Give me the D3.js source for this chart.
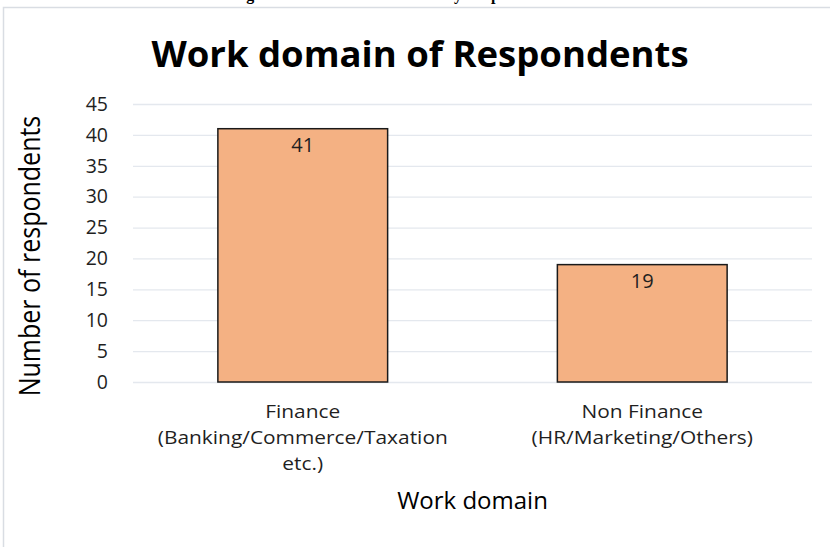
<!DOCTYPE html>
<html>
<head>
<meta charset="utf-8">
<script src="https://cdn.jsdelivr.net/npm/d3@7"></script>
<style>
  html, body { margin: 0; padding: 0; background: #fff; }
  svg { display: block; }
</style>
</head>
<body>
<svg id="chart" width="830" height="547"></svg>
<script>
// Chart data
const categories = [
  ["Finance", "(Banking/Commerce/Taxation", "etc.)"],
  ["Non Finance", "(HR/Marketing/Others)"]
];
const categoryKeys = ["Finance", "Non Finance"];
const respondents = [41, 19];
const yTicks = [0, 5, 10, 15, 20, 25, 30, 35, 40, 45];

const chartTitle = "Work domain of Respondents";
const xTitle = "Work domain";
const yTitle = "Number of respondents";
const caption = "Figure 3: Work domain of Survey Respondents";

const font = "'Open Sans', 'DejaVu Sans', sans-serif";
const svg = d3.select("#chart");

// Caption from the surrounding document, mostly above the frame
svg.append("text")
  .attr("x", 232).attr("y", 0)
  .attr("font-family", "'Liberation Serif', serif")
  .attr("font-weight", "bold")
  .attr("font-size", 16)
  .attr("fill", "#000")
  .text(caption);

// Chart frame (runs past the right and bottom edges)
svg.append("rect")
  .attr("x", 3.5).attr("y", 7.5)
  .attr("width", 840).attr("height", 560)
  .attr("fill", "#fff")
  .attr("stroke", "#d9dde3")
  .attr("stroke-width", 1.5);

const plot = { left: 133, right: 812, top: 104, bottom: 382 };

const x = d3.scaleBand()
  .domain(categoryKeys)
  .range([plot.left, plot.right])
  .paddingInner(0.5)
  .paddingOuter(0.25);

const y = d3.scaleLinear()
  .domain([0, 45])
  .range([plot.bottom, plot.top]);

// Gridlines
svg.append("g")
  .selectAll("line")
  .data(yTicks)
  .join("line")
  .attr("x1", plot.left).attr("x2", plot.right)
  .attr("y1", d => y(d) + 0.5).attr("y2", d => y(d) + 0.5)
  .attr("stroke", "#e4e8ee")
  .attr("stroke-width", 1.3);

// Y axis tick labels
const yAxis = svg.append("g")
  .attr("transform", `translate(${plot.left - 25},0)`)
  .call(d3.axisLeft(y).tickValues(yTicks).tickSize(0).tickPadding(0));
yAxis.select(".domain").remove();
yAxis.selectAll("text")
  .attr("font-family", font)
  .attr("font-size", 19.5)
  .attr("fill", "#1f1f1f");

// Bars
svg.append("g")
  .selectAll("rect")
  .data(respondents)
  .join("rect")
  .attr("x", (d, i) => x(categoryKeys[i]))
  .attr("y", d => y(d))
  .attr("width", x.bandwidth())
  .attr("height", d => y(0) - y(d))
  .attr("fill", "#f4b183")
  .attr("stroke", "#1a1a1a")
  .attr("stroke-width", 1.5);

// Value labels inside the top of each bar
svg.append("g")
  .selectAll("text")
  .data(respondents)
  .join("text")
  .attr("x", (d, i) => x(categoryKeys[i]) + x.bandwidth() / 2)
  .attr("y", d => y(d) + 23)
  .attr("text-anchor", "middle")
  .attr("font-family", font)
  .attr("font-size", 20)
  .attr("fill", "#1f1f1f")
  .text(d => d);

// Category labels (multi-line, slightly widened glyphs)
const catG = svg.append("g")
  .selectAll("text")
  .data(categories)
  .join("text")
  .attr("transform", (d, i) => `translate(${x(categoryKeys[i]) + x.bandwidth() / 2},0) scale(1.1,1)`)
  .attr("text-anchor", "middle")
  .attr("font-family", font)
  .attr("font-size", 19)
  .attr("fill", "#1f1f1f");
catG.each(function (lines) {
  d3.select(this).selectAll("tspan")
    .data(lines)
    .join("tspan")
    .attr("x", 0)
    .attr("y", (l, j) => 418 + j * 26)
    .text(l => l);
});

// Axis titles
svg.append("text")
  .attr("x", (plot.left + plot.right) / 2)
  .attr("y", 509)
  .attr("text-anchor", "middle")
  .attr("font-family", font)
  .attr("font-size", 24)
  .attr("fill", "#000")
  .text(xTitle);

svg.append("text")
  .attr("transform", `translate(40,256) scale(1.15,1) rotate(-90)`)
  .attr("text-anchor", "middle")
  .attr("font-family", font)
  .attr("font-size", 25)
  .attr("fill", "#000")
  .text(yTitle);

// Chart title
svg.append("text")
  .attr("x", 420)
  .attr("y", 67)
  .attr("text-anchor", "middle")
  .attr("font-family", font)
  .attr("font-weight", "bold")
  .attr("font-size", 36.5)
  .attr("fill", "#000")
  .text(chartTitle);
</script>
</body>
</html>
